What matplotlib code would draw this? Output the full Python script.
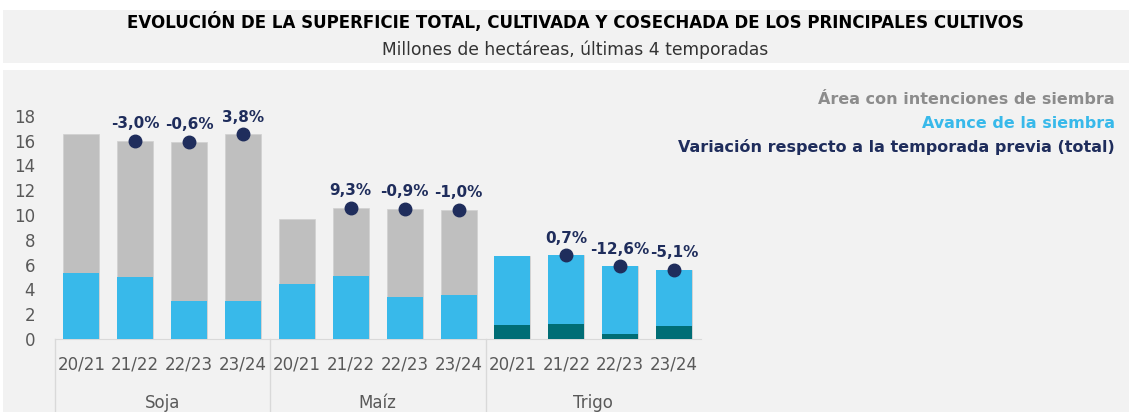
import matplotlib
matplotlib.use("Agg")
import matplotlib.pyplot as plt
from matplotlib.patches import Rectangle

crops = ["Soja", "Maíz", "Trigo"]
seasons = ["20/21", "21/22", "22/23", "23/24"]

# millones de hectareas, por cultivo y temporada
area_total = [16.5, 16.0, 15.9, 16.5,
              9.65, 10.55, 10.5, 10.4,
              6.7, 6.75, 5.85, 5.6]
avance = [5.3, 5.0, 3.05, 3.1,
          4.45, 5.1, 3.4, 3.55,
          6.7, 6.75, 5.85, 5.6]
cosecha = [0, 0, 0, 0,
           0, 0, 0, 0,
           1.1, 1.2, 0.4, 1.05]
variacion = [None, "-3,0%", "-0,6%", "3,8%",
             None, "9,3%", "-0,9%", "-1,0%",
             None, "0,7%", "-12,6%", "-5,1%"]

c_gris = "#bfbfbf"
c_azul = "#38b9ea"
c_teal = "#006d75"
c_navy = "#1f2d5c"
c_fondo = "#f2f2f2"
c_texto = "#595959"

fig = plt.figure(figsize=(11.29, 4.12), dpi=100)
fig.patch.set_facecolor("white")

# bandas de fondo
fig.patches.append(Rectangle((3 / 1129, 1 - 63 / 412), 1, 53 / 412, transform=fig.transFigure,
                             facecolor=c_fondo, edgecolor="none", zorder=0))
fig.patches.append(Rectangle((3 / 1129, 0), 1, 1 - 70 / 412, transform=fig.transFigure,
                             facecolor=c_fondo, edgecolor="none", zorder=0))

fig.text(575 / 1129, 1 - 22 / 412,
         "EVOLUCIÓN DE LA SUPERFICIE TOTAL, CULTIVADA Y COSECHADA DE LOS PRINCIPALES CULTIVOS",
         ha="center", va="center", fontsize=12, fontweight="bold", color="black",
         family="DejaVu Sans")
fig.text(575 / 1129, 1 - 50 / 412, "Millones de hectáreas, últimas 4 temporadas",
         ha="center", va="center", fontsize=12.3, color="#333333", family="DejaVu Sans")

ax = fig.add_axes([54.5 / 1129, 73 / 412, 646.5 / 1129, 248 / 412])
ax.set_facecolor("none")
ax.set_zorder(2)

x = list(range(len(area_total)))
w = 0.67
ax.bar(x, area_total, width=w, color=c_gris, edgecolor="#d0d0d0", linewidth=0.5, zorder=2)
ax.bar(x, avance, width=w, color=c_azul, edgecolor="none", zorder=3)
ax.bar(x, cosecha, width=w, color=c_teal, edgecolor="none", zorder=4)

for i, lab in enumerate(variacion):
    if lab is None:
        continue
    ax.plot(i, area_total[i], "o", color=c_navy, markersize=9, zorder=5)
    ax.annotate(lab, (i, area_total[i]), xytext=(0, 7), textcoords="offset points",
                ha="center", va="bottom", fontsize=11, fontweight="bold", color=c_navy,
                family="DejaVu Sans")

ax.set_xlim(-0.5, len(x) - 0.5)
ax.set_ylim(0, 20)
ax.set_yticks(range(0, 19, 2))
ax.set_xticks(x)
ax.set_xticklabels(seasons * len(crops))
for s in ["top", "right", "left"]:
    ax.spines[s].set_visible(False)
ax.spines["bottom"].set_color("#d9d9d9")
ax.tick_params(axis="x", length=0, pad=12, labelsize=12, labelcolor=c_texto)
ax.tick_params(axis="y", length=0, pad=14, labelsize=12, labelcolor=c_texto)
for lbl in ax.get_xticklabels() + ax.get_yticklabels():
    lbl.set_family("DejaVu Sans")

# separadores y nombres de cultivo
tr = ax.get_xaxis_transform()
n = len(seasons)
for k in range(len(crops)):
    xs = k * n - 0.5
    ax.plot([xs, xs], [0, -0.3], color="#d9d9d9", lw=1, transform=tr, clip_on=False)
for k, c in enumerate(crops):
    ax.text(k * n + (n - 1) / 2, -0.258, c, transform=tr, ha="center", va="center",
            fontsize=12, color=c_texto, family="DejaVu Sans")

# leyenda como texto
leg = [("Área con intenciones de siembra", "#8c8c8c"),
       ("Avance de la siembra", c_azul),
       ("Variación respecto a la temporada previa (total)", c_navy)]
for j, (t, col) in enumerate(leg):
    fig.text(1115 / 1129, 1 - (99 + 24 * j) / 412, t, ha="right", va="center",
             fontsize=11.5, fontweight="bold", color=col, family="DejaVu Sans")

fig.savefig("out.png", dpi=100, facecolor=fig.get_facecolor())
